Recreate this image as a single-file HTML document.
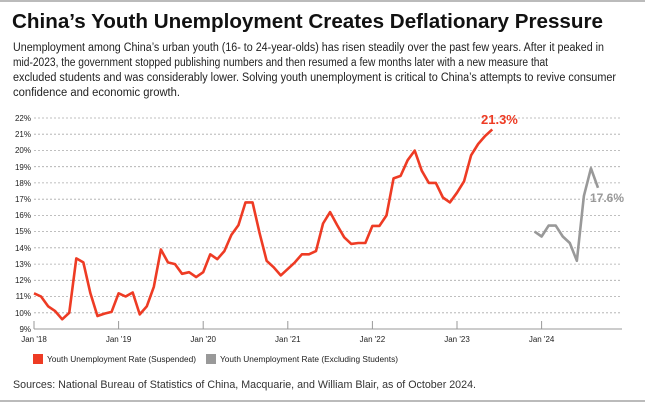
<!DOCTYPE html>
<html><head><meta charset="utf-8"><style>
html,body{margin:0;padding:0;background:#fff;width:645px;height:404px;overflow:hidden}
svg{display:block}
</style></head><body>
<svg width="645" height="404" xmlns="http://www.w3.org/2000/svg" font-family="Liberation Sans, sans-serif">
<rect x="0" y="0" width="645" height="2" fill="#bbb"/>
<rect x="0" y="400" width="645" height="2" fill="#bbb"/>
<text x="12" y="28" font-size="20" font-weight="bold" fill="#111" textLength="591" lengthAdjust="spacingAndGlyphs">China’s Youth Unemployment Creates Deflationary Pressure</text>
<g font-size="11.5" fill="#222">
<text x="13" y="51" textLength="591" lengthAdjust="spacingAndGlyphs">Unemployment among China’s urban youth (16- to 24-year-olds) has risen steadily over the past few years. After it peaked in</text>
<text x="13" y="66" textLength="535" lengthAdjust="spacingAndGlyphs">mid-2023, the government stopped publishing numbers and then resumed a few months later with a new measure that</text>
<text x="13" y="81" textLength="603" lengthAdjust="spacingAndGlyphs">excluded students and was considerably lower. Solving youth unemployment is critical to China’s attempts to revive consumer</text>
<text x="13" y="96" textLength="167" lengthAdjust="spacingAndGlyphs">confidence and economic growth.</text>
</g>
<g stroke="#aaa" stroke-width="0.8" stroke-dasharray="2,2">
<line x1="34" x2="620" y1="118" y2="118"/><line x1="34" x2="620" y1="134.2" y2="134.2"/><line x1="34" x2="620" y1="150.5" y2="150.5"/><line x1="34" x2="620" y1="166.7" y2="166.7"/><line x1="34" x2="620" y1="182.9" y2="182.9"/><line x1="34" x2="620" y1="199.2" y2="199.2"/><line x1="34" x2="620" y1="215.4" y2="215.4"/><line x1="34" x2="620" y1="231.6" y2="231.6"/><line x1="34" x2="620" y1="247.8" y2="247.8"/><line x1="34" x2="620" y1="264.1" y2="264.1"/><line x1="34" x2="620" y1="280.3" y2="280.3"/><line x1="34" x2="620" y1="296.5" y2="296.5"/><line x1="34" x2="620" y1="312.8" y2="312.8"/>
</g>
<line x1="34" x2="622" y1="329" y2="329" stroke="#999" stroke-width="1"/>
<g stroke="#999" stroke-width="1">
<line x1="34" x2="34" y1="321" y2="329"/><line x1="118.6" x2="118.6" y1="321" y2="329"/><line x1="203.2" x2="203.2" y1="321" y2="329"/><line x1="287.8" x2="287.8" y1="321" y2="329"/><line x1="372.4" x2="372.4" y1="321" y2="329"/><line x1="457" x2="457" y1="321" y2="329"/><line x1="541.6" x2="541.6" y1="321" y2="329"/>
</g>
<g font-size="8" fill="#222" text-anchor="end">
<text x="31" y="121">22%</text><text x="31" y="137">21%</text><text x="31" y="153">20%</text><text x="31" y="170">19%</text><text x="31" y="186">18%</text><text x="31" y="202">17%</text><text x="31" y="218">16%</text><text x="31" y="234">15%</text><text x="31" y="251">14%</text><text x="31" y="267">13%</text><text x="31" y="283">12%</text><text x="31" y="299">11%</text><text x="31" y="316">10%</text><text x="31" y="332">9%</text>
</g>
<g font-size="8" fill="#222" text-anchor="middle">
<text x="34" y="342">Jan '18</text><text x="118.6" y="342">Jan '19</text><text x="203.2" y="342">Jan '20</text><text x="287.8" y="342">Jan '21</text><text x="372.4" y="342">Jan '22</text><text x="457" y="342">Jan '23</text><text x="541.6" y="342">Jan '24</text>
</g>
<polyline fill="none" stroke="#ee3b24" stroke-width="2.6" stroke-linejoin="round" points="34,293.3 41.05,296.5 48.1,306.3 55.15,311.1 62.2,319.3 69.25,312.8 76.3,258.4 83.35,262.4 90.4,293.3 97.45,316 104.5,313.6 111.55,311.9 118.6,293.3 125.65,296.5 132.7,292.5 139.75,314.4 146.8,306.3 153.85,286.8 160.9,249.5 167.95,262.4 175,264.1 182.05,273.8 189.1,272.2 196.15,277.1 203.2,272.2 210.25,254.3 217.3,259.2 224.35,251.1 231.4,234.9 238.45,225.1 245.5,202.4 252.55,202.4 259.6,233.2 266.65,260.8 273.7,267.3 280.75,275.4 287.8,268.9 294.85,262.4 301.9,254.3 308.95,254.3 316,251.1 323.05,223.5 330.1,212.1 337.15,225.1 344.2,237.3 351.25,243.9 358.3,243 365.35,243 372.4,225.9 379.45,225.9 386.5,215.4 393.55,178.4 400.6,175.9 407.65,160.2 414.7,150.6 421.75,170.7 428.8,182.9 435.85,182.9 442.9,197.5 449.95,202.4 457,192.7 464.05,181.3 471.1,155.3 478.15,144 485.2,135.9 492.25,129.4"/>
<polyline fill="none" stroke="#999" stroke-width="2.6" stroke-linejoin="round" points="534.55,231.6 541.6,236.5 548.65,225.6 555.7,225.6 562.75,236.5 569.8,243 576.85,260.8 583.9,195.9 590.95,168.3 598,187.8"/>
<text x="481" y="124" font-size="13" font-weight="bold" fill="#ee3b24">21.3%</text>
<text x="590" y="202" font-size="12" font-weight="bold" fill="#999">17.6%</text>
<rect x="33" y="354" width="10" height="10" fill="#ee3b24"/>
<text x="47" y="362" font-size="8" fill="#222" textLength="149" lengthAdjust="spacingAndGlyphs">Youth Unemployment Rate (Suspended)</text>
<rect x="206" y="354" width="10" height="10" fill="#999"/>
<text x="220" y="362" font-size="8" fill="#222" textLength="178" lengthAdjust="spacingAndGlyphs">Youth Unemployment Rate (Excluding Students)</text>
<text x="13" y="388" font-size="11" fill="#333" textLength="463" lengthAdjust="spacingAndGlyphs">Sources: National Bureau of Statistics of China, Macquarie, and William Blair, as of October 2024.</text>
</svg>
</body></html>
